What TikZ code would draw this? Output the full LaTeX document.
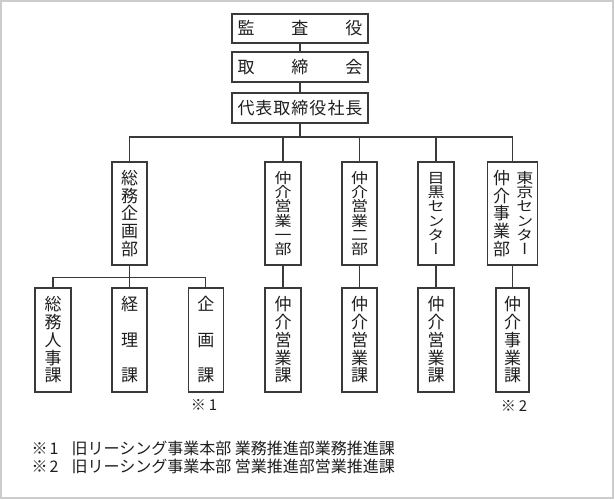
\documentclass[tikz,border=0pt]{standalone}
\usepackage{fontspec}
\usepackage{graphicx}
\newfontfamily\jp{Noto Sans CJK JP}
\newfontfamily\jpv[RawFeature=+vert]{Noto Sans CJK JP}
\definecolor{linec}{HTML}{3A3A3A}
\definecolor{txtc}{HTML}{1E1E1E}
\definecolor{framec}{HTML}{CCCCCC}
\makeatletter
\newcommand\vcol[1]{\vbox to 86pt{\baselineskip=0pt\lineskip=0pt\lineskiplimit=-\maxdimen
  \let\vsep\relax\@tfor\vc:=#1\do{\vsep\hbox to 20pt{\hss\rule[-0.12em]{0pt}{1em}\vc\hss}\let\vsep\vfill}}}
\newcommand\vcolc[1]{\vbox to 86pt{\baselineskip=0pt\lineskip=0pt\lineskiplimit=-\maxdimen
  \let\vsep\relax\@tfor\vc:=#1\do{\vsep\hbox to 20pt{\hss\rule[-0.12em]{0pt}{1em}\raisebox{0.06em}{\scalebox{1}[0.84]{\vc}}\hss}\let\vsep\vfill}}}
\makeatother
\newcommand\hstrut{\rule[-0.12em]{0pt}{1em}}
\begin{document}
\begin{tikzpicture}[x=1pt,y=-1pt,
  box/.style={draw=linec,line width=1.1pt,inner sep=0pt,text=txtc,font=\jpv\fontsize{17}{17}\selectfont},
  hbx/.style={box,minimum width=136pt,minimum height=30pt,font=\jp\fontsize{17}{17}\selectfont},
  vtop/.style={box,minimum height=103pt},
  vbot/.style={box,minimum height=104pt},
  conn/.style={draw=linec,line width=1.1pt},
  note/.style={inner sep=0pt,text=txtc,font=\jp\fontsize{16}{16}\selectfont}]
\useasboundingbox (0,0) rectangle (615,500);
\draw[framec,line width=1.6pt] (0.8,0.8) rectangle (613.2,498.2);
% top
\node[hbx,minimum height=29pt] (audit) at (300,28.5) {\hbox to 125pt{\hstrut{}監\hfill{}査\hfill{}役}};
\node[hbx] (board) at (300,67) {\hbox to 125pt{\hstrut{}取\hfill{}締\hfill{}会}};
\node[hbx] (ceo) at (300,108) {\hbox to 125pt{\hstrut{}代\hfill{}表\hfill{}取\hfill{}締\hfill{}役\hfill{}社\hfill{}長}};
% departments
\node[vtop,minimum width=35pt] (somu) at (129.5,213.5) {\vcol{総務企画部}};
\node[vtop,minimum width=36pt] (ei1) at (283,213.5) {\vcolc{仲介営業一部}};
\node[vtop,minimum width=35pt] (ei2) at (359.5,213.5) {\vcolc{仲介営業二部}};
\node[vtop,minimum width=36pt] (meg) at (436,213.5) {\vcolc{目黒センター}};
\node[vtop,minimum width=50pt] (tok) at (512.3,213.5) {\hbox{\kern2pt\vcol{仲介事業部}\kern3.3pt\vcolc{東京センター}}};
% sections
\node[vbot,minimum width=36pt] (jinji) at (53,340) {\vcol{総務人事課}};
\node[vbot,minimum width=35pt] (keiri) at (129.5,340) {\vcol{経理課}};
\node[vbot,minimum width=35.5pt] (kikaku) at (205.8,340) {\vcol{企画課}};
\node[vbot,minimum width=36pt] (ka1) at (283,340) {\vcol{仲介営業課}};
\node[vbot,minimum width=35pt] (ka2) at (359.5,340) {\vcol{仲介営業課}};
\node[vbot,minimum width=36pt] (ka3) at (436,340) {\vcol{仲介営業課}};
\node[vbot,minimum width=33pt] (ka4) at (512.5,340) {\vcol{仲介事業課}};
% connectors
\coordinate (bus) at (300,137);
\coordinate (sub) at (129.5,277.5);
\draw[conn] (audit) -- (board);
\draw[conn] (board) -- (ceo);
\draw[conn] (ceo.south) -- (bus);
\foreach \n in {somu,ei1,ei2,meg,tok} \draw[conn] (\n.north) |- (bus);
\draw[conn] (somu.south) -- (keiri.north);
\draw[conn] (jinji.north) |- (sub);
\draw[conn] (kikaku.north) |- (sub);
\draw[conn] (ei1) -- (ka1);
\draw[conn] (ei2) -- (ka2);
\draw[conn] (meg) -- (ka3);
\draw[conn] (tok.south) -- (tok.south |- ka4.north);
% notes
\node[note,font=\jp\fontsize{15}{15}\selectfont] (n1) at (204,405) {※\kern3pt{}1};
\node[note,font=\jp\fontsize{15}{15}\selectfont] (n2) at (514,406) {※\kern3pt{}2};
\node[note,anchor=west] (f1) at (31.5,448) {※\kern2pt{}1\hspace{13pt}旧リーシング事業本部 業務推進部業務推進課};
\node[note,anchor=west] (f2) at (31.5,466) {※\kern2pt{}2\hspace{13pt}旧リーシング事業本部 営業推進部営業推進課};
\end{tikzpicture}
\end{document}
